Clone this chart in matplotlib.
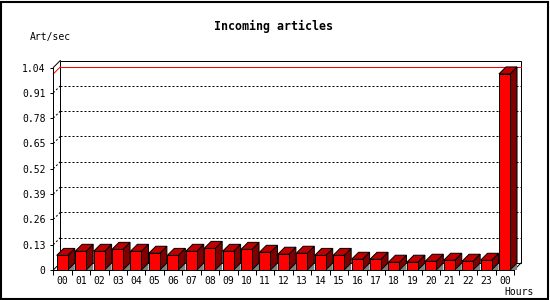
import matplotlib
matplotlib.use("Agg")
import matplotlib.pyplot as plt
from matplotlib.patches import Polygon, Rectangle
import numpy as np

hours = ["00", "01", "02", "03", "04", "05", "06", "07", "08", "09", "10", "11",
         "12", "13", "14", "15", "16", "17", "18", "19", "20", "21", "22", "23", "00"]
values = [0.075, 0.096, 0.096, 0.106, 0.096, 0.086, 0.075, 0.096, 0.111, 0.096, 0.106, 0.091,
          0.081, 0.086, 0.075, 0.075, 0.055, 0.055, 0.040, 0.040, 0.045, 0.050, 0.045, 0.050, 1.007]
yticks = [0, 0.13, 0.26, 0.39, 0.52, 0.65, 0.78, 0.91, 1.04]
ytick_labels = ["0", "0.13", "0.26", "0.39", "0.52", "0.65", "0.78", "0.91", "1.04"]
title = "Incoming articles"
ylabel = "Art/sec"
xlabel = "Hours"

W, H = 550, 300
fig = plt.figure(figsize=(W / 100, H / 100), dpi=100)
fig.patch.set_facecolor("white")

# front plot frame in pixels
L, R, B, T = 53.3, 514.0, 270.0, 67.5
ax = fig.add_axes([L / W, (H - B) / H, (R - L) / W, (B - T) / H])
n = len(values)
ymax = 1.04
ax.set_xlim(0, n)
ax.set_ylim(0, ymax)
ax.set_facecolor("none")

depth_px = 7.0
dx = depth_px / ((R - L) / n)
dy = depth_px / ((B - T) / ymax)
lw = 0.72

# back wall
wall = Polygon([(dx, dy), (n + dx, dy), (n + dx, ymax + dy), (dx, ymax + dy)],
               closed=True, facecolor="white", edgecolor="black", lw=lw, clip_on=False, zorder=1)
ax.add_patch(wall)
# connecting edges
for (x0, y0) in [(0, 0), (0, ymax), (n, 0)]:
    ax.plot([x0, x0 + dx], [y0, y0 + dy], color="black", lw=lw, clip_on=False, zorder=2)

# gridlines
for v in yticks[1:-1]:
    ax.plot([dx, n + dx], [v + dy, v + dy], color="black", lw=lw, ls=(0, (2, 2)),
            clip_on=False, zorder=2)
    ax.plot([0, dx], [v, v + dy], color="black", lw=lw, ls=(0, (2, 2)),
            clip_on=False, zorder=2)

# max line
vmax = max(values)
ax.plot([dx, n + dx], [vmax + dy, vmax + dy], color="#ff0000", lw=lw, clip_on=False, zorder=2)
ax.plot([0, dx], [vmax, vmax + dy], color="#ff0000", lw=lw, clip_on=False, zorder=2)

# bars
off = 0.184
bw = 0.6
for i, v in enumerate(values):
    x0 = i + off
    x1 = x0 + bw
    z = 3 + i * 0.01
    shadow = Polygon([(x1, 0), (x1 + dx, dy), (x1 + dx, 0)], closed=True,
                     facecolor="#808080", edgecolor="none", clip_on=False, zorder=z)
    side = Polygon([(x1, 0), (x1 + dx, dy), (x1 + dx, v + dy), (x1, v)], closed=True,
                   facecolor="#800000", edgecolor="black", lw=lw, clip_on=False, zorder=z)
    top = Polygon([(x0, v), (x1, v), (x1 + dx, v + dy), (x0 + dx, v + dy)], closed=True,
                  facecolor="#c00000", edgecolor="black", lw=lw, clip_on=False, zorder=z)
    front = Rectangle((x0, 0), bw, v, facecolor="#ff0000", edgecolor="black", lw=lw,
                      clip_on=False, zorder=z)
    for p in (shadow, side, top, front):
        ax.add_patch(p)

# axes spines and ticks
for s in ("top", "right"):
    ax.spines[s].set_visible(False)
for s in ("left", "bottom"):
    ax.spines[s].set_linewidth(lw)
    ax.spines[s].set_zorder(10)

ax.set_yticks(yticks)
ax.set_yticklabels(ytick_labels)
ax.tick_params(axis="y", length=2.2, width=lw, pad=3.4, labelsize=7)

ax.set_xticks(np.arange(0, n + 1))
ax.set_xticklabels([])
ax.set_xticks(np.arange(n) + 0.5, minor=True)
ax.set_xticklabels(hours, minor=True)
ax.tick_params(axis="x", which="major", length=3.6, width=lw)
ax.tick_params(axis="x", which="minor", length=0, pad=4.0, labelsize=7)

for lab in ax.get_xticklabels(minor=True) + ax.get_yticklabels():
    lab.set_family("DejaVu Sans Mono")

# texts
fig.text(274 / W, 1 - 26.5 / H, title, ha="center", va="center", fontsize=8.4,
         fontweight="bold", family="DejaVu Sans Mono")
fig.text(30 / W, 1 - 37 / H, ylabel, ha="left", va="center", fontsize=7,
         family="DejaVu Sans Mono")
fig.text(504.3 / W, 1 - 292 / H, xlabel, ha="left", va="center", fontsize=7,
         family="DejaVu Sans Mono")

# outer frame
fig.patches.append(Rectangle((0.75 / W, 1.5 / H), 547.5 / W, 297 / H, transform=fig.transFigure,
                             fill=False, edgecolor="black", lw=1.5))

fig.savefig("out.png", dpi=100)
